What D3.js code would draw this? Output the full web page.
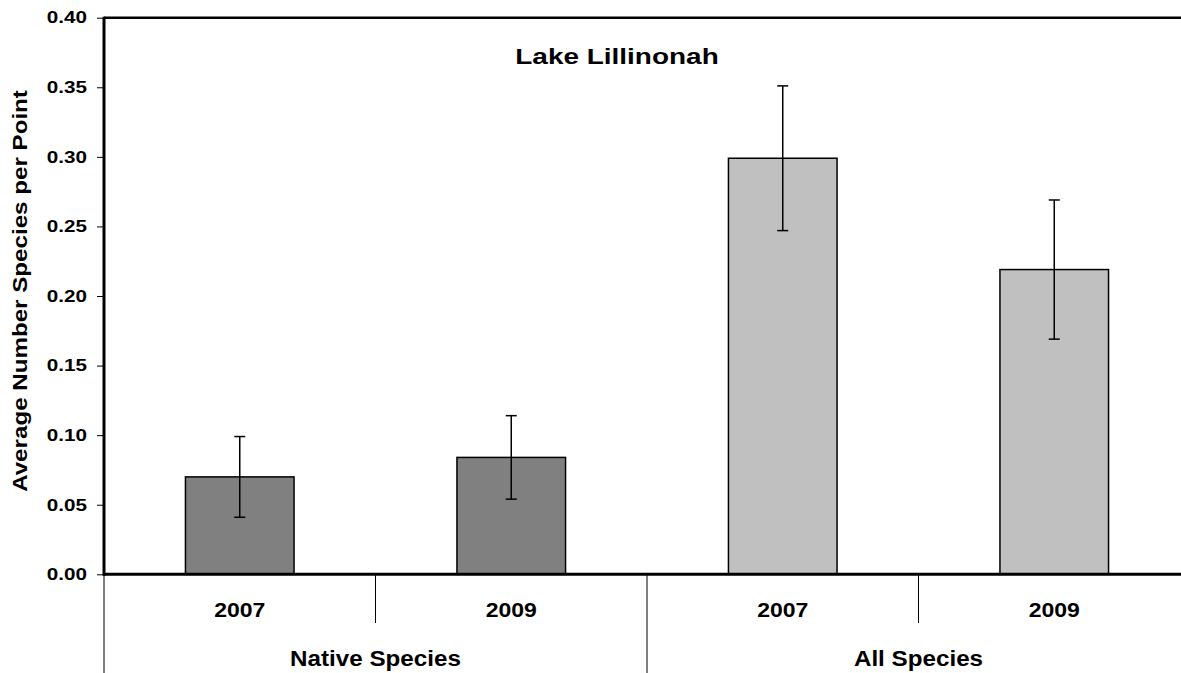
<!DOCTYPE html>
<html><head><meta charset="utf-8">
<script src="https://cdn.jsdelivr.net/npm/d3@7"></script>
<style>body{margin:0;background:#fff}svg{display:block;font-family:"Liberation Sans",Arial,sans-serif}</style>
</head><body>
<svg id="c" width="1181" height="673"></svg>
<script>
const categories = ["2007","2009","2007","2009"];
const groups = ["Native Species","All Species"];
const groupOf = [0,0,1,1];
const values = [0.070, 0.084, 0.299, 0.219];
const errors = [0.029, 0.030, 0.052, 0.050];
const colors = ["#808080","#808080","#C0C0C0","#C0C0C0"];
const yTicks = [0,0.05,0.10,0.15,0.20,0.25,0.30,0.35,0.40];
const title = "Lake Lillinonah";
const yLabel = "Average Number Species per Point";

const svg = d3.select("#c");
const L=104, R=1190, T=17.7, B=574.3;
const x = d3.scaleBand().domain(d3.range(categories.length)).range([L,R]).paddingInner(0).paddingOuter(0);
const y = d3.scaleLinear().domain([0,0.4]).range([B,T]);
const bw = x.bandwidth()*0.40;

// stretch helper: scale text horizontally
function stretch(sel, factor){
  sel.each(function(){
    const w = this.getComputedTextLength();
    d3.select(this).attr("textLength", w*factor).attr("lengthAdjust","spacingAndGlyphs");
  });
}

// bars
svg.selectAll("rect.bar").data(values).enter().append("rect")
  .attr("x",(d,i)=>x(i)+x.bandwidth()/2-bw/2).attr("width",bw)
  .attr("y",d=>y(d)).attr("height",d=>B-y(d))
  .attr("fill",(d,i)=>colors[i]).attr("stroke","#000").attr("stroke-width",1.5);

// error bars
const eb = svg.selectAll("g.eb").data(values).enter().append("g");
eb.append("line").attr("x1",(d,i)=>x(i)+x.bandwidth()/2).attr("x2",(d,i)=>x(i)+x.bandwidth()/2)
  .attr("y1",(d,i)=>y(d+errors[i])).attr("y2",(d,i)=>y(d-errors[i])).attr("stroke","#000").attr("stroke-width",1.5);
[1,-1].forEach(s=>{
  eb.append("line").attr("x1",(d,i)=>x(i)+x.bandwidth()/2-5.5).attr("x2",(d,i)=>x(i)+x.bandwidth()/2+5.5)
    .attr("y1",(d,i)=>y(d+s*errors[i])).attr("y2",(d,i)=>y(d+s*errors[i])).attr("stroke","#000").attr("stroke-width",1.5);
});

// y axis
const ya = svg.append("g").attr("transform",`translate(${L},0)`)
  .call(d3.axisLeft(y).tickValues(yTicks).tickFormat(d3.format(".2f")).tickSize(7).tickPadding(10));
ya.select(".domain").remove();
ya.selectAll(".tick line").attr("stroke","#000").attr("stroke-width",1);
ya.selectAll(".tick text").attr("font-size",16.5).attr("font-weight","bold").attr("fill","#000")
  .attr("font-family","'Liberation Sans',Arial,sans-serif").call(stretch,1.25);

// frame lines
svg.append("line").attr("x1",L).attr("x2",1181).attr("y1",T).attr("y2",T).attr("stroke","#000").attr("stroke-width",2.5);
svg.append("line").attr("x1",L).attr("x2",L).attr("y1",T-1).attr("y2",B+1.5).attr("stroke","#000").attr("stroke-width",3);
svg.append("line").attr("x1",L).attr("x2",1181).attr("y1",B).attr("y2",B).attr("stroke","#000").attr("stroke-width",3);

// category dividers
d3.range(categories.length+1).forEach(i=>{
  const xv = i<categories.length ? x(i) : R;
  const long = (i===0 || i===categories.length || groupOf[i]!==groupOf[i-1]);
  svg.append("line").attr("x1",xv).attr("x2",xv).attr("y1",B).attr("y2",long?673:623)
    .attr("stroke","#000").attr("stroke-width",1);
});

// category labels
svg.selectAll("text.cat").data(categories).enter().append("text")
  .attr("x",(d,i)=>x(i)+x.bandwidth()/2).attr("y",617).attr("text-anchor","middle")
  .attr("font-size",20).attr("font-weight","bold").text(d=>d).call(stretch,1.15);
// group labels
groups.forEach((g,gi)=>{
  const idx = groupOf.map((v,i)=>v===gi?i:-1).filter(i=>i>=0);
  const cx = (x(idx[0]) + x(idx[idx.length-1])+x.bandwidth())/2;
  svg.append("text").attr("x",cx).attr("y",666).attr("text-anchor","middle")
    .attr("font-size",22).attr("font-weight","bold").text(g).call(stretch,1.1);
});

// title
svg.append("text").attr("x",617).attr("y",64).attr("text-anchor","middle")
  .attr("font-size",21.5).attr("font-weight","bold").text(title).call(stretch,1.3);
// y label
svg.append("text").attr("transform",`translate(27,291) rotate(-90)`).attr("text-anchor","middle")
  .attr("font-size",21).attr("font-weight","bold").text(yLabel).call(stretch,1.15);
</script>
</body></html>
